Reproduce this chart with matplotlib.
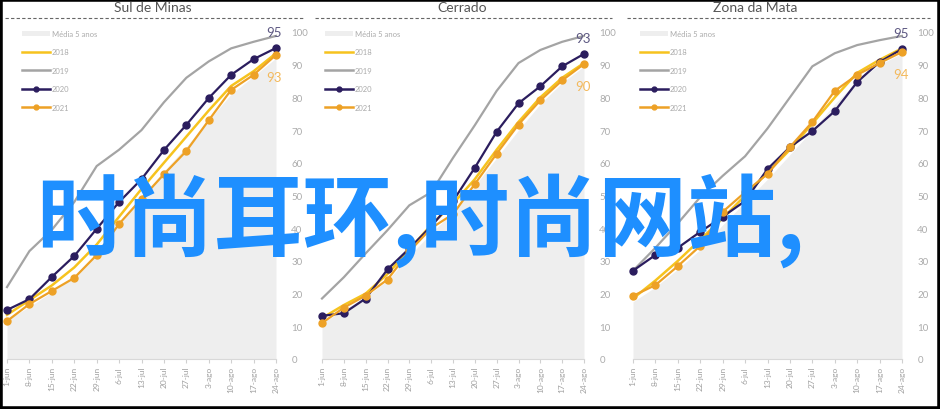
import matplotlib.pyplot as plt
from matplotlib.lines import Line2D
from matplotlib.patches import Patch, Rectangle

plt.rcParams['font.family'] = ['Lato', 'DejaVu Sans']

# --- Data ---
semanas = ["1-jun", "8-jun", "15-jun", "22-jun", "29-jun", "6-jul", "13-jul",
           "20-jul", "27-jul", "3-ago", "10-ago", "17-ago", "24-ago"]
regioes = ["Sul de Minas", "Cerrado", "Zona da Mata"]
anos = ["2018", "2019", "2020", "2021"]

# Sul de Minas
sul_media = [12, 16, 20.5, 25, 32, 41, 49.5, 57.5, 65, 73, 81, 86.5, 92]
sul_2018 = [13.5, 18, 22.5, 28, 35, 43.5, 52, 60, 68, 76, 83.5, 88, 93.5]
sul_2019 = [22, 33, 39.5, 48, 59, 64, 70, 78.5, 86, 91, 95, 97, 98.8]
sul_2020 = [15.0, 18.3, 25.1, 31.5, 39.8, 48.0, 55.0, 63.9, 71.6, 79.8, 86.9, 91.7, 95.1]
sul_2021 = [11.6, 16.8, 20.8, 24.8, 31.8, 41.3, 49, 56.5, 63.6, 73.0, 82.3, 86.9, 93.0]

# Cerrado
cer_media = [11, 15, 19, 24, 31.5, 38.5, 45, 53, 61.5, 70, 78, 84.5, 89.5]
cer_2018 = [12.5, 16.5, 20, 26, 33.5, 41, 47.5, 55, 64, 72.5, 80, 86, 90.5]
cer_2019 = [18.5, 25, 32.3, 39.4, 47, 51, 61.5, 71.5, 82, 90.5, 94.5, 97, 98.8]
cer_2020 = [13.2, 14.0, 18.5, 27.4, 33.8, 40.6, 48.3, 58.5, 69.5, 78.2, 83.4, 89.5, 93.3]
cer_2021 = [11.0, 15.7, 19.4, 24.3, 32.9, 40.0, 44.3, 53.5, 62.8, 71.7, 79.1, 85.2, 90.2]

# Zona da Mata
zm_media = [17.5, 22, 27.5, 33.5, 41, 48, 55, 62.5, 70, 78, 85, 90, 93.5]
zm_2018 = [18.5, 24, 30, 36.5, 43, 50, 57, 64, 72, 80, 87.5, 91.5, 95]
zm_2019 = [27, 34, 41.5, 49.5, 56, 62, 70.5, 80, 89.5, 93.5, 96, 97.5, 98.8]
zm_2020 = [27, 31.8, 34, 38.9, 43.5, 48.3, 58.1, 64.8, 69.7, 75.8, 84.7, 90.8, 94.8]
zm_2021 = [19.3, 22.6, 28.4, 34.6, 45, 51, 56.6, 64.8, 72.5, 82, 86.9, 90.5, 93.9]

series = [
    (sul_media, sul_2018, sul_2019, sul_2020, sul_2021),
    (cer_media, cer_2018, cer_2019, cer_2020, cer_2021),
    (zm_media, zm_2018, zm_2019, zm_2020, zm_2021),
]

# --- Layout (pixels) ---
W, H = 940, 410
ax_left = [7, 322, 633]
ax_right = [276, 584, 902]
ax_top, ax_bot = 33, 360
title_x = [153, 462, 755]
dash_x = [(5, 303), (315, 612), (627, 930)]
legend_x = [22, 325, 640]
lab_dx = [-2, -1, -1]

c_media = "#eeeeee"
c18, c19, c20, c21 = "#f6c31e", "#a4a4a4", "#2b1d5e", "#eda126"

fig = plt.figure(figsize=(W / 100, H / 100), dpi=100)

for i, nome in enumerate(regioes):
    media, a18, a19, a20, a21 = series[i]
    x = list(range(len(semanas)))
    ax = fig.add_axes([ax_left[i] / W, 1 - ax_bot / H,
                       (ax_right[i] - ax_left[i]) / W, (ax_bot - ax_top) / H])
    ax.fill_between(x, media, color=c_media, lw=0)
    ax.plot(x, a19, color=c19, lw=1.6, clip_on=False)
    ax.plot(x, a18, color=c18, lw=1.8, clip_on=False)
    ax.plot(x, a20, color=c20, lw=1.6, marker='o', ms=5, clip_on=False)
    ax.plot(x, a21, color=c21, lw=1.6, marker='o', ms=5, clip_on=False)

    ax.annotate(f"{a20[-1]:.0f}", (x[-1], a20[-1]), xytext=(lab_dx[i], 16),
                textcoords='offset pixels', ha='center', va='center',
                fontsize=9.5, color="#5d5882")
    ax.annotate(f"{a21[-1]:.0f}", (x[-1], a21[-1]), xytext=(lab_dx[i], -22),
                textcoords='offset pixels', ha='center', va='center',
                fontsize=9.5, color="#f3b95c")

    ax.set_xlim(0, len(semanas) - 1)
    ax.set_ylim(0, 100)
    ax.set_yticks(range(0, 101, 10))
    ax.set_xticks(x, semanas, rotation=90)
    ax.yaxis.tick_right()
    ax.tick_params(axis='y', length=0, pad=11, labelsize=7, labelcolor='#ababab')
    ax.tick_params(axis='x', length=3, color='#d0d0d0', pad=2, labelsize=6,
                   labelcolor='#a0a0a0')
    for s in ['top', 'left', 'right']:
        ax.spines[s].set_visible(False)
    ax.spines['bottom'].set_color('#d8d8d8')
    ax.patch.set_alpha(0)

    handles = [Patch(facecolor=c_media, edgecolor='none'),
               Line2D([], [], color=c18, lw=1.8),
               Line2D([], [], color=c19, lw=1.8),
               Line2D([], [], color=c20, lw=1.8, marker='o', ms=3.5),
               Line2D([], [], color=c21, lw=1.8, marker='o', ms=3.5)]
    ax.legend(handles, ["Média 5 anos"] + anos, loc='upper left',
              bbox_to_anchor=(legend_x[i] / W, 1 - 31 / H),
              bbox_transform=fig.transFigure, frameon=False, fontsize=5.5,
              labelcolor='#ababab', handlelength=3.6, handletextpad=0.3,
              labelspacing=1.5, borderpad=0, borderaxespad=0)

    fig.text(title_x[i] / W, 1 - 8 / H, nome, ha='center', va='center',
             fontsize=10, color='#555555')
    fig.add_artist(Line2D([dash_x[i][0] / W, dash_x[i][1] / W], [1 - 19 / H] * 2,
                          ls=(0, (3, 2)), color='#666666', lw=0.8))

fig.text(36 / W, 1 - 221 / H, "时尚耳环,时尚网站,", ha='left', va='center',
         fontsize=64, color='#1e8fff', weight='bold',
         family=['Noto Sans CJK SC', 'DejaVu Sans'])

fig.add_artist(Rectangle((0, 0), 1, 1, transform=fig.transFigure, fill=False,
                         ec='black', lw=4))

fig.savefig("out.png", dpi=100)
